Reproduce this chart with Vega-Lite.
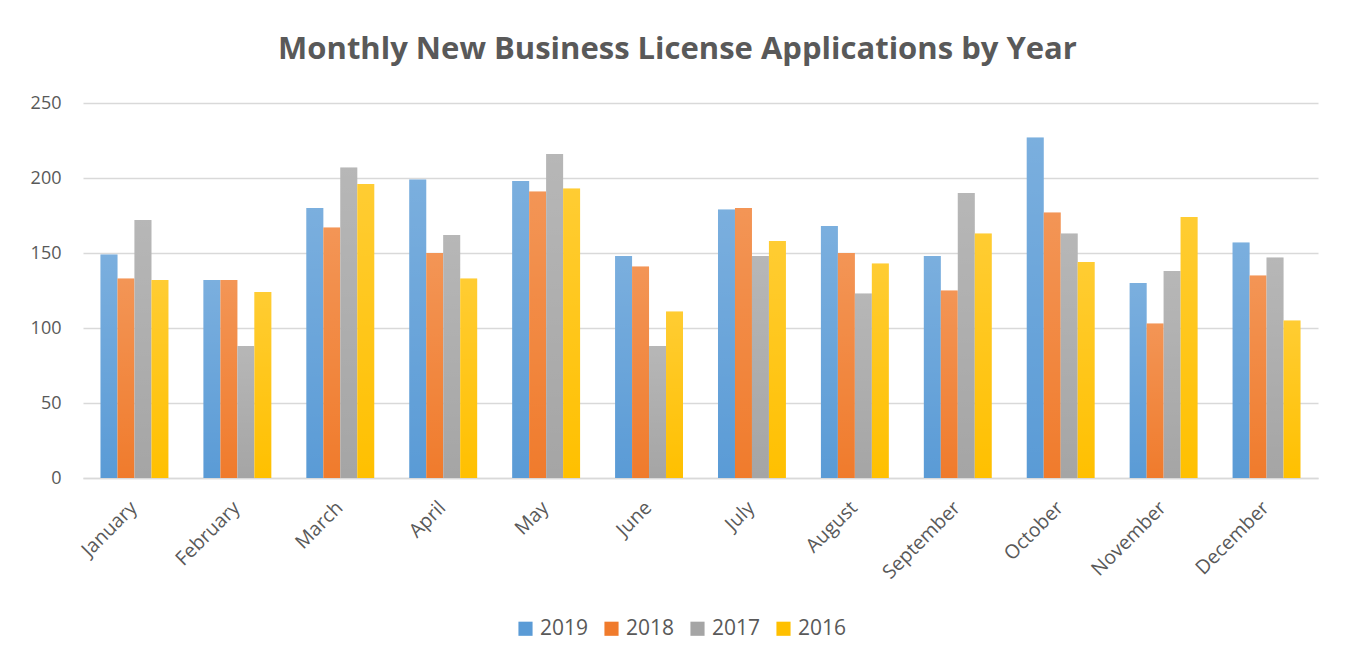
{
  "$schema": "https://vega.github.io/schema/vega-lite/v6.json",
  "autosize": "none",
  "width": 1235,
  "height": 375,
  "padding": {"left": 83, "top": 103, "right": 30, "bottom": 188},
  "background": "white",
  "title": {
    "text": "Monthly New Business License Applications by Year",
    "font": "Open Sans",
    "fontSize": 31,
    "fontWeight": "bold",
    "color": "#595959",
    "anchor": "middle",
    "offset": 28,
    "dx": -23
  },
  "config": {
    "view": {"stroke": null},
    "font": "Open Sans"
  },
  "data": {
    "values": [
      {"month": "January", "year": "2019", "value": 149},
      {"month": "January", "year": "2018", "value": 133},
      {"month": "January", "year": "2017", "value": 172},
      {"month": "January", "year": "2016", "value": 132},
      {"month": "February", "year": "2019", "value": 132},
      {"month": "February", "year": "2018", "value": 132},
      {"month": "February", "year": "2017", "value": 88},
      {"month": "February", "year": "2016", "value": 124},
      {"month": "March", "year": "2019", "value": 180},
      {"month": "March", "year": "2018", "value": 167},
      {"month": "March", "year": "2017", "value": 207},
      {"month": "March", "year": "2016", "value": 196},
      {"month": "April", "year": "2019", "value": 199},
      {"month": "April", "year": "2018", "value": 150},
      {"month": "April", "year": "2017", "value": 162},
      {"month": "April", "year": "2016", "value": 133},
      {"month": "May", "year": "2019", "value": 198},
      {"month": "May", "year": "2018", "value": 191},
      {"month": "May", "year": "2017", "value": 216},
      {"month": "May", "year": "2016", "value": 193},
      {"month": "June", "year": "2019", "value": 148},
      {"month": "June", "year": "2018", "value": 141},
      {"month": "June", "year": "2017", "value": 88},
      {"month": "June", "year": "2016", "value": 111},
      {"month": "July", "year": "2019", "value": 179},
      {"month": "July", "year": "2018", "value": 180},
      {"month": "July", "year": "2017", "value": 148},
      {"month": "July", "year": "2016", "value": 158},
      {"month": "August", "year": "2019", "value": 168},
      {"month": "August", "year": "2018", "value": 150},
      {"month": "August", "year": "2017", "value": 123},
      {"month": "August", "year": "2016", "value": 143},
      {"month": "September", "year": "2019", "value": 148},
      {"month": "September", "year": "2018", "value": 125},
      {"month": "September", "year": "2017", "value": 190},
      {"month": "September", "year": "2016", "value": 163},
      {"month": "October", "year": "2019", "value": 227},
      {"month": "October", "year": "2018", "value": 177},
      {"month": "October", "year": "2017", "value": 163},
      {"month": "October", "year": "2016", "value": 144},
      {"month": "November", "year": "2019", "value": 130},
      {"month": "November", "year": "2018", "value": 103},
      {"month": "November", "year": "2017", "value": 138},
      {"month": "November", "year": "2016", "value": 174},
      {"month": "December", "year": "2019", "value": 157},
      {"month": "December", "year": "2018", "value": 135},
      {"month": "December", "year": "2017", "value": 147},
      {"month": "December", "year": "2016", "value": 105}
    ]
  },
  "encoding": {
    "x": {
      "field": "month",
      "type": "nominal",
      "sort": null,
      "scale": {"paddingInner": 0.34, "paddingOuter": 0.17},
      "axis": {
        "title": null,
        "labelAngle": -45,
        "labelFontSize": 19.5,
        "labelColor": "#595959",
        "labelFont": "Open Sans",
        "ticks": false,
        "domainColor": "#D9D9D9",
        "domainWidth": 1.5,
        "labelPadding": 20,
        "labelOffset": -7
      }
    },
    "xOffset": {
      "field": "year",
      "type": "nominal",
      "sort": ["2019", "2018", "2017", "2016"],
      "scale": {"paddingInner": 0, "paddingOuter": 0}
    },
    "y": {
      "field": "value",
      "type": "quantitative",
      "scale": {"domain": [0, 250]},
      "axis": {
        "title": null,
        "values": [0, 50, 100, 150, 200, 250],
        "labelFontSize": 18,
        "labelColor": "#595959",
        "labelFont": "Open Sans",
        "ticks": false,
        "domain": false,
        "gridColor": "#D9D9D9",
        "gridWidth": 1.5,
        "labelPadding": 22
      }
    }
  },
  "layer": [
    {
      "mark": {"type": "bar"},
      "encoding": {
        "color": {
          "field": "year",
          "type": "nominal",
          "sort": ["2019", "2018", "2017", "2016"],
          "scale": {
            "domain": ["2019", "2018", "2017", "2016"],
            "range": ["#5A9BD6", "#F07B2C", "#A5A5A5", "#FFC000"]
          },
          "legend": {
            "title": null,
            "orient": "none",
            "direction": "horizontal",
            "legendX": 432,
            "legendY": 515,
            "symbolType": "square",
            "symbolSize": 200,
            "symbolStrokeWidth": 0,
            "labelFontSize": 21,
            "labelColor": "#595959",
            "labelFont": "Open Sans",
            "labelOffset": 4,
            "columnPadding": 12
          }
        }
      }
    },
    {
      "mark": {
        "type": "bar",
        "color": {
          "gradient": "linear",
          "x1": 0, "y1": 0, "x2": 0, "y2": 1,
          "stops": [
            {"offset": 0, "color": "rgba(255,255,255,0.2)"},
            {"offset": 1, "color": "rgba(255,255,255,0)"}
          ]
        }
      }
    }
  ]
}
